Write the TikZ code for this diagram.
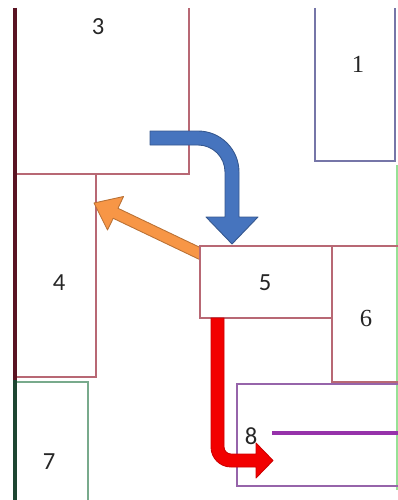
\documentclass[tikz,border=0pt]{standalone}
\usepackage{fontspec}
\setmainfont{Carlito}
\newfontfamily\serifnum{Liberation Serif}
\usepackage{xcolor}
\usepackage{tikz}
\usetikzlibrary{arrows.meta,positioning,calc}

\definecolor{wallred}{RGB}{184,104,116}
\definecolor{wallblue}{RGB}{118,118,168}
\definecolor{wallgreen}{RGB}{120,170,140}
\definecolor{wallpurple}{RGB}{150,100,170}
\definecolor{linepurple}{RGB}{150,50,170}
\definecolor{edgegreen}{RGB}{150,225,150}
\definecolor{edgemaroon}{RGB}{90,20,35}
\definecolor{edgedkgreen}{RGB}{30,70,50}
\definecolor{arrowblue}{RGB}{70,116,190}
\definecolor{arroworange}{RGB}{247,150,70}

\tikzset{
  wall/.style={line width=1.1pt},
  roomlbl/.style={font=\fontsize{14}{16}\selectfont, text=black!85},
  bigarrow/.style={line width=0.5pt, line join=round}
}

\begin{document}
\begin{tikzpicture}[x=0.02cm,y=-0.02cm]
            \useasboundingbox (0,0) rectangle (398,500);
            % rooms
            \draw[wall,wallred] (16,8) -- (16,174) -- (189,174) -- (189,8);
            \draw[wall,wallred] (16,174) -- (16,377) -- (96,377) -- (96,174);
            \draw[wall,wallgreen] (16,382) -- (88,382) -- (88,500);
            \draw[wall,wallblue] (315,8) -- (315,161) -- (395,161) -- (395,8);
            \draw[wall,edgegreen] (397,165) -- (397,490);
            \draw[wall,wallpurple] (398,384) -- (237,384) -- (237,486) -- (398,486);
            \draw[line width=2pt,linepurple] (272,433) -- (398,433);
            \draw[wall,wallred] (332,246) -- (398,246);
            \draw[wall,wallred] (332,246) -- (332,382) -- (398,382);
            \draw[line width=2.2pt,edgemaroon] (15,8) -- (15,380);
            \draw[line width=2.2pt,edgedkgreen] (15,380) -- (15,500);
            % orange arrow
            \filldraw[bigarrow,fill=arroworange,draw=arroworange!75!black]
              (94,203) -- (123.5,196.5) -- (118,208.3) -- (205.4,250) -- (200.6,260)
              -- (113.2,218.3) -- (107.5,230) -- cycle;
            \draw[wall,wallred,fill=white] (200,246) rectangle (332,318);
            % blue arrow
            \filldraw[bigarrow,fill=arrowblue,draw=arrowblue!75!black]
              (150,131) -- (198,131) arc[start angle=-90,end angle=0,radius=41]
              -- (239,217) -- (258,217) -- (232,244) -- (206,217) -- (225,217)
              -- (225,172) arc[start angle=0,end angle=-90,radius=27] -- (150,145) -- cycle;
            % red arrow
            \filldraw[bigarrow,fill=red!95!black,draw=red!80!black]
              (211,318) -- (211,447) arc[start angle=180,end angle=90,radius=20]
              -- (256,467) -- (256,478) -- (273,460.5) -- (256,443) -- (256,454)
              -- (231,454) arc[start angle=90,end angle=180,radius=7] -- (224,318) -- cycle;
            % labels
            \node[roomlbl] (r1) at (358,64) {\serifnum 1};
            \node[roomlbl] (r3) at (98,27) {3};
            \node[roomlbl] (r4) at (59,283) {4};
            \node[roomlbl] (r5) at (265,283) {5};
            \node[roomlbl] (r6) at (366,318) {\serifnum 6};
            \node[roomlbl] (r7) at (49,462) {7};
            \node[roomlbl] (r8) at (251,436) {8};
        \end{tikzpicture}
\end{document}
